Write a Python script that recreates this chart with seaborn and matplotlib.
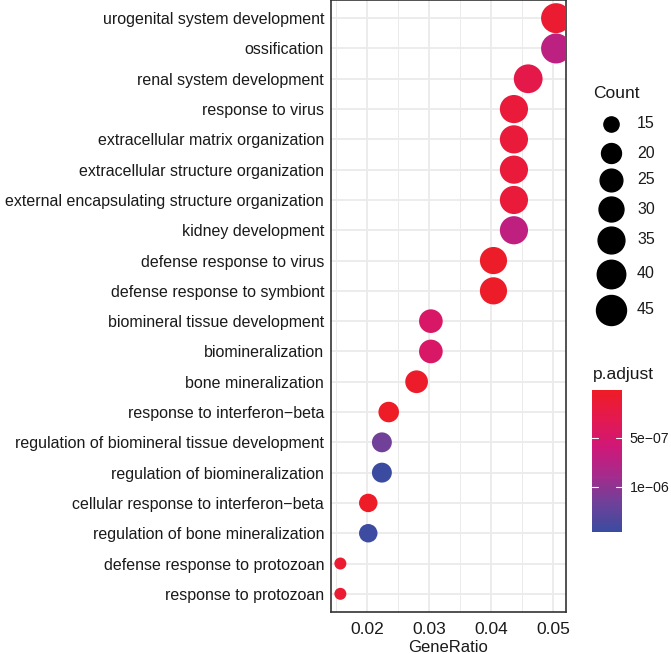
import numpy as np
import pandas as pd
import matplotlib
matplotlib.use("Agg")
import matplotlib.pyplot as plt
import seaborn as sns
from matplotlib.colors import LinearSegmentedColormap, Normalize
from matplotlib.cm import ScalarMappable

terms = ["urogenital system development", "ossification", "renal system development",
         "response to virus", "extracellular matrix organization",
         "extracellular structure organization",
         "external encapsulating structure organization", "kidney development",
         "defense response to virus", "defense response to symbiont",
         "biomineral tissue development", "biomineralization", "bone mineralization",
         "response to interferon\u2212beta", "regulation of biomineral tissue development",
         "regulation of biomineralization", "cellular response to interferon\u2212beta",
         "regulation of bone mineralization", "defense response to protozoan",
         "response to protozoan"]
gene_ratio = [0.0505, 0.0505, 0.0460, 0.0437, 0.0437, 0.0437, 0.0437, 0.0437,
              0.0404, 0.0404, 0.0303, 0.0303, 0.0280, 0.0235, 0.0224, 0.0224,
              0.0202, 0.0202, 0.0157, 0.0157]
counts = [45, 45, 41, 39, 39, 39, 39, 39, 36, 36, 27, 27, 25, 21, 20, 20, 18, 18, 14, 14]
p_adjust = [1.0e-7, 7.2e-7, 2.6e-7, 1.6e-7, 1.6e-7, 1.6e-7, 1.6e-7, 7.0e-7,
            4e-8, 4e-8, 4.6e-7, 4.6e-7, 5e-8, 2e-8, 1.15e-6, 1.45e-6,
            2e-8, 1.44e-6, 9e-8, 9e-8]
count_breaks = [15, 20, 25, 30, 35, 40, 45]

df = pd.DataFrame({"Description": terms, "GeneRatio": gene_ratio,
                   "Count": counts, "p.adjust": p_adjust})
df["row"] = np.arange(len(df))

cmap = LinearSegmentedColormap.from_list(
    "padj", ["#EE1C25", "#E4194F", "#CF1878", "#A52B8C", "#6E4199", "#3A4CA0"])
p_lo, p_hi = 1e-8, 1.46e-6
norm = Normalize(p_lo, p_hi)

# ggplot-like area scaling: diameter in px from 12 (min) to 30 (max)
c_min, c_max = 14, 45
def diam_px(c):
    return 12 + 18 * np.sqrt((c - c_min) / (c_max - c_min))
def area(c):
    return (diam_px(c) * 0.72) ** 2

sns.set_style("white")
plt.rcParams["font.family"] = ["Liberation Sans", "DejaVu Sans"]

fig = plt.figure(figsize=(6.71, 6.54), dpi=100)
ax = fig.add_axes([331 / 671, 1 - 612 / 654, (566 - 331) / 671, 612 / 654])

sns.scatterplot(data=df, x="GeneRatio", y="row", hue="p.adjust", palette=cmap,
                hue_norm=norm, size="Count",
                sizes={c: area(c) for c in set(counts)},
                legend=False, linewidth=0, ax=ax, zorder=3)

ax.set_xlim(0.01419, 0.0521)
ax.set_ylim(len(df) - 0.4, -0.6)
ax.set_xticks([0.02, 0.03, 0.04, 0.05])
ax.set_xticklabels(["0.02", "0.03", "0.04", "0.05"])
ax.set_xticks([0.015, 0.025, 0.035, 0.045], minor=True)
ax.set_yticks(df["row"])
ax.set_yticklabels(terms)
ax.grid(True, which="major", color="#EBEBEB", linewidth=1.3)
ax.grid(True, which="minor", axis="x", color="#EBEBEB", linewidth=0.7)
ax.set_axisbelow(True)
for s in ax.spines.values():
    s.set_color("#333333")
    s.set_linewidth(1.2)
ax.tick_params(axis="both", which="major", length=3, width=1, color="#333333",
               labelsize=11.5, labelcolor="#1A1A1A", pad=2)
ax.tick_params(axis="x", labelsize=12.5, pad=4.5)
ax.tick_params(axis="x", which="minor", length=0)
ax.set_xlabel("GeneRatio", fontsize=12, labelpad=2, color="#1A1A1A")
ax.set_ylabel("")

# Count legend
ys = [124, 153, 180, 209, 240, 274, 310]
fig.text(593 / 671, 1 - 93 / 654, "Count", fontsize=12.5, va="center", ha="left",
         color="#1A1A1A")
for b, yy in zip(count_breaks, ys):
    fig.add_artist(plt.Line2D([611 / 671], [1 - yy / 654], marker="o", color="black",
                              markersize=diam_px(b) * 0.72, linestyle="none"))
    fig.text(637 / 671, 1 - yy / 654, str(b), fontsize=11.5, va="center", ha="left",
             color="#1A1A1A")

# p.adjust colorbar (reversed: small values on top)
fig.text(593 / 671, 1 - 375 / 654, "p.adjust", fontsize=12.5, va="center", ha="left",
         color="#1A1A1A")
cax = fig.add_axes([592 / 671, 1 - 532 / 654, 30 / 671, 142 / 654])
cb = fig.colorbar(ScalarMappable(norm=norm, cmap=cmap), cax=cax)
cb.outline.set_visible(False)
cax.invert_yaxis()
cb.set_ticks([5e-7, 1e-6])
cb.set_ticklabels(["5e\u221207", "1e\u221206"])
cax.tick_params(length=0, labelsize=10.2, pad=5.5, labelcolor="#1A1A1A")
for t in [5e-7, 1e-6]:
    cax.plot([0, 0.2], [t, t], color="white", lw=0.8, transform=cax.get_yaxis_transform())
    cax.plot([0.8, 1], [t, t], color="white", lw=0.8, transform=cax.get_yaxis_transform())

fig.savefig("out.png", dpi=100)
